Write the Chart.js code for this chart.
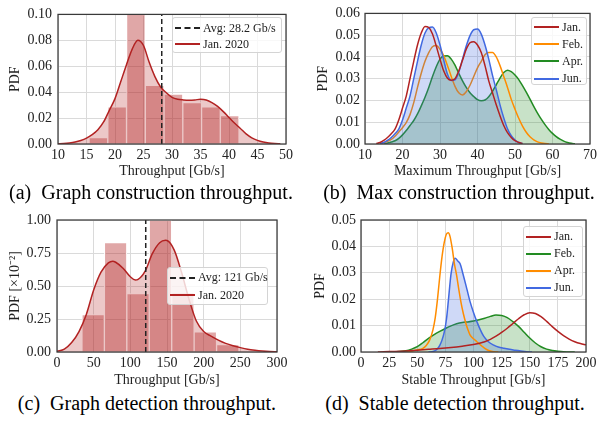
<!DOCTYPE html>
<html>
<head>
<meta charset="utf-8">
<script src="https://cdn.jsdelivr.net/npm/chart.js@4.4.0/dist/chart.umd.min.js"></script>
<style>
  body { margin: 0; background: #fff; }
  #page { position: relative; width: 600px; height: 422px; overflow: hidden;
          font-family: "Liberation Serif", "Times New Roman", serif; }
  #page canvas { position: absolute; }
  .caption { position: absolute; width: 300px; text-align: center; font-size: 20px;
             line-height: 24px; color: #000; white-space: nowrap; }
  .legend { position: absolute; box-sizing: border-box; background: rgba(255,255,255,0.8);
            border: 1px solid #d4d4d4; border-radius: 3px; font-size: 12px; color: #222; }
  .legend .row { position: absolute; left: 2px; height: 16px; display: flex; align-items: center; white-space: nowrap; }
  .legend .swatch { width: 25px; height: 0; margin-right: 3px; }
</style>
</head>
<body>
<div id="page">
  <canvas id="chartA" width="300" height="182" style="left:0;top:0"></canvas>
  <canvas id="chartB" width="300" height="182" style="left:300px;top:0"></canvas>
  <canvas id="chartC" width="300" height="190" style="left:0;top:200px"></canvas>
  <canvas id="chartD" width="300" height="190" style="left:300px;top:200px"></canvas>
  <div class="caption" style="left:1px;top:180px">(a)&nbsp; Graph construction throughput.</div>
  <div class="caption" style="left:309px;top:180px">(b)&nbsp; Max construction throughput.</div>
  <div class="caption" style="left:-3px;top:391px">(c)&nbsp; Graph detection throughput.</div>
  <div class="caption" style="left:305px;top:391px">(d)&nbsp; Stable detection throughput.</div>
</div>
<script>
// ---- (a) graph construction throughput, Jan. 2020 ----
const consXTicks = [10, 15, 20, 25, 30, 35, 40, 45, 50];
const consYTicks = [0, 0.02, 0.04, 0.06, 0.08, 0.10];
const consBinCenters = [17.09, 20.38, 23.67, 26.96, 30.25, 33.54, 36.83, 40.12];
const consBinHeights = [0.005, 0.0287, 0.100, 0.0453, 0.0385, 0.032, 0.0287, 0.0219];
const consKdeX = [10, 11, 12, 13, 14, 15, 16, 17, 18, 19, 20, 21, 22, 23, 24, 25, 26, 27, 28, 29,
                  30, 31, 32, 33, 34, 35, 36, 37, 38, 39, 40, 41, 42, 43, 44, 45, 46, 47, 48, 49];
const consKdeY = [0.0002, 0.0004, 0.0008, 0.0015, 0.0027, 0.0045, 0.0072, 0.011, 0.017, 0.026,
                  0.035, 0.048, 0.061, 0.073, 0.080, 0.076, 0.063, 0.052, 0.044, 0.0395,
                  0.036, 0.0345, 0.034, 0.0338, 0.034, 0.0345, 0.034, 0.032, 0.029, 0.025,
                  0.0205, 0.016, 0.012, 0.0078, 0.0048, 0.0028, 0.0015, 0.0007, 0.0003, 0.0001];
const consAvg = 28.2;

// ---- (b) max construction throughput ----
const maxXTicks = [10, 20, 30, 40, 50, 60, 70];
const maxYTicks = [0, 0.01, 0.02, 0.03, 0.04, 0.05, 0.06];
const maxX = [13, 14, 15, 16, 17, 18, 19, 20, 21, 22, 23, 24, 25, 26, 27, 28, 29, 30, 31, 32,
              33, 34, 35, 36, 37, 38, 39, 40, 41, 42, 43, 44, 45, 46, 47, 48, 49, 50, 51, 52,
              53, 54, 55, 56, 57, 58, 59, 60, 61, 62, 63, 64, 65, 66];
const maxJan = [0.0002, 0.0007, 0.0017, 0.003, 0.0047, 0.0068, 0.011, 0.0165, 0.022, 0.030,
                0.038, 0.0455, 0.051, 0.054, 0.0535, 0.0505, 0.045, 0.039, 0.0335, 0.0302,
                0.0293, 0.030, 0.0335, 0.0385, 0.0435, 0.0465, 0.047, 0.0455, 0.042, 0.036,
                0.029, 0.0235, 0.018, 0.013, 0.0085, 0.0052, 0.003, 0.0015, 0.0007, 0.0002,
                null, null, null, null, null, null, null, null, null, null, null, null, null, null];
const maxFeb = [null, 0.0002, 0.0006, 0.0012, 0.0021, 0.0036, 0.0055, 0.0075, 0.0098, 0.0135,
                0.019, 0.026, 0.0325, 0.038, 0.042, 0.0447, 0.0452, 0.0435, 0.0405, 0.036,
                0.031, 0.0265, 0.0235, 0.0225, 0.024, 0.027, 0.031, 0.035, 0.038, 0.041,
                0.042, 0.042, 0.040, 0.036, 0.031, 0.026, 0.0205, 0.016, 0.0118, 0.0082,
                0.0054, 0.0033, 0.0019, 0.001, 0.0005, 0.0002, 0.0001, null, null, null, null, null, null, null];
const maxApr = [null, null, 0.0002, 0.0005, 0.0009, 0.0015, 0.0026, 0.0042, 0.0062, 0.0085,
                0.0108, 0.0138, 0.0175, 0.0215, 0.026, 0.031, 0.0355, 0.039, 0.0404, 0.0405,
                0.039, 0.0362, 0.0325, 0.029, 0.026, 0.0235, 0.0218, 0.0204, 0.0199, 0.0202,
                0.0217, 0.0242, 0.0272, 0.0303, 0.0328, 0.0339, 0.0332, 0.0317, 0.0296, 0.0268,
                0.0238, 0.0206, 0.0173, 0.0142, 0.0114, 0.0089, 0.0067, 0.0049, 0.0034, 0.0022,
                0.0013, 0.0007, 0.0003, 0.0001];
const maxJun = [null, 0.0002, 0.0007, 0.0017, 0.003, 0.0047, 0.0068, 0.011, 0.0165, 0.022,
                0.030, 0.038, 0.0455, 0.051, 0.0535, 0.0538, 0.051, 0.0455, 0.0385, 0.032,
                0.0292, 0.0295, 0.033, 0.039, 0.045, 0.0498, 0.0525, 0.0528, 0.0505, 0.0455,
                0.039, 0.0315, 0.025, 0.018, 0.012, 0.007, 0.0038, 0.0018, 0.0007, 0.0002,
                null, null, null, null, null, null, null, null, null, null, null, null, null, null];

// ---- (c) graph detection throughput, Jan. 2020 (PDF x 10^-2) ----
const detXTicks = [0, 50, 100, 150, 200, 250, 300];
const detYTicks = [0, 0.25, 0.5, 0.75, 1.0];
const detBinCenters = [49.3, 79.9, 110.5, 141.1, 171.7, 202.3, 232.9];
const detBinHeights = [0.284, 0.828, 0.443, 1.00, 0.45, 0.152, 0.056];
const detKdeX = [0, 10, 20, 30, 40, 50, 60, 70, 76, 80, 90, 100, 107, 110, 120, 130, 140, 148,
                 150, 160, 170, 180, 190, 200, 210, 220, 230, 240, 250, 260, 270, 280, 290, 300];
const detKdeY = [0.005, 0.022, 0.072, 0.155, 0.285, 0.47, 0.605, 0.675, 0.688, 0.68, 0.635,
                 0.57, 0.545, 0.548, 0.61, 0.745, 0.828, 0.846, 0.845, 0.77, 0.60, 0.40, 0.235,
                 0.155, 0.12, 0.09, 0.065, 0.047, 0.033, 0.021, 0.013, 0.007, 0.003, 0.001];
const detAvg = 121;

// ---- (d) stable detection throughput ----
const stbXTicks = [0, 25, 50, 75, 100, 125, 150, 175, 200];
const stbYTicks = [0, 0.01, 0.02, 0.03, 0.04, 0.05];
const stbJanX = [15, 20, 30, 40, 50, 60, 70, 80, 90, 100, 110, 115, 120, 125, 130, 135, 140,
                 145, 150, 155, 160, 165, 170, 175, 180, 185, 190, 195, 200];
const stbJanY = [0, 0.0001, 0.0002, 0.0004, 0.0007, 0.001, 0.0013, 0.0017, 0.0022, 0.0028,
                 0.0039, 0.0048, 0.006, 0.0074, 0.009, 0.0108, 0.0126, 0.0141, 0.0149, 0.0146,
                 0.0134, 0.0116, 0.0096, 0.0078, 0.0062, 0.0049, 0.0039, 0.0032, 0.0027];
const stbFebX = [20, 30, 40, 45, 50, 55, 60, 65, 70, 75, 80, 85, 90, 95, 100, 105, 110, 115,
                 120, 125, 130, 135, 140, 145, 150, 155, 160, 165, 170, 175, 180, 190];
const stbFebY = [0, 0.0001, 0.0005, 0.0011, 0.002, 0.0035, 0.0052, 0.0066, 0.0078, 0.0089,
                 0.0099, 0.0107, 0.0112, 0.0114, 0.0117, 0.0122, 0.0128, 0.0135, 0.014, 0.0138,
                 0.013, 0.0115, 0.0097, 0.0075, 0.0053, 0.0034, 0.002, 0.0011, 0.0006, 0.0003,
                 0.0001, 0];
const stbAprX = [40, 45, 50, 55, 58, 61, 64, 66, 68, 70, 72, 74, 76, 77.6, 79, 81, 83, 85, 87,
                 89, 91, 93, 95, 97, 100, 103, 107, 110, 114, 118, 122];
const stbAprY = [0, 0.0003, 0.0008, 0.0014, 0.0025, 0.0045, 0.0085, 0.013, 0.02, 0.0285, 0.036,
                 0.0415, 0.0447, 0.0452, 0.044, 0.0395, 0.0335, 0.029, 0.0235, 0.0185, 0.0145,
                 0.0112, 0.0085, 0.0064, 0.005, 0.0039, 0.0024, 0.0014, 0.0005, 0.0001, 0];
const stbJunX = [60, 63, 66, 68, 70, 72, 74, 76, 78, 80, 82, 83.7, 86, 88, 91, 94, 97, 100, 103,
                 106, 109, 113, 118, 122, 127, 132, 137, 142, 147, 152];
const stbJunY = [0, 0.0001, 0.0005, 0.0012, 0.0025, 0.0045, 0.0075, 0.0125, 0.021, 0.0295, 0.034,
                 0.0355, 0.0345, 0.0335, 0.029, 0.024, 0.019, 0.015, 0.0115, 0.0085, 0.006,
                 0.004, 0.0026, 0.0019, 0.0014, 0.001, 0.0007, 0.0004, 0.0001, 0];

const RED = '#b22222', ORANGE = '#ff8c00', GREEN = '#228b22', BLUE = '#4169e1';
const SERIF = '"Liberation Serif", "Times New Roman", serif';
Chart.defaults.font.family = SERIF;
Chart.defaults.color = '#222';

const pts = (xs, ys) => xs.map((x, i) => ({ x: x, y: ys[i] }));

// draws the dark frame around the plot area, like matplotlib spines
const framePlugin = {
  id: 'frame',
  afterDatasetsDraw(chart) {
    const { ctx, chartArea: a } = chart;
    ctx.save();
    ctx.strokeStyle = '#3a3a3a';
    ctx.lineWidth = 1.25;
    ctx.strokeRect(a.left, a.top, a.right - a.left, a.bottom - a.top);
    ctx.restore();
  }
};

function makeScale(o) {
  return {
    type: 'linear',
    min: o.min,
    max: o.max,
    offset: false,
    afterBuildTicks: s => { s.ticks = o.ticks.map(v => ({ value: v })); },
    afterFit: s => { if (s.isHorizontal()) s.height = o.size; else s.width = o.size; },
    grid: { color: '#dadada', lineWidth: 1, drawTicks: false, offset: false },
    border: { display: false },
    ticks: {
      padding: o.pad, autoSkip: false, maxRotation: 0, color: '#222',
      font: { size: 14 },
      callback: v => o.digits ? Number(v).toFixed(o.digits) : String(v)
    },
    title: { display: true, text: o.title, color: '#222', font: { size: 14, lineHeight: 1.2 }, padding: o.titlePad }
  };
}

function kdeLine(label, xs, ys, color, fillColor) {
  return {
    type: 'line', label: label, data: pts(xs, ys),
    borderColor: color, borderWidth: 1.5, pointRadius: 0,
    cubicInterpolationMode: 'monotone',
    fill: fillColor ? 'origin' : false,
    backgroundColor: fillColor || 'transparent'
  };
}

function avgLine(label, x, yMax) {
  return {
    type: 'line', label: label, data: [{ x: x, y: 0 }, { x: x, y: yMax }],
    borderColor: '#222', borderWidth: 1.5, borderDash: [5, 3], pointRadius: 0, fill: false
  };
}

function histBars(xs, ys) {
  return {
    type: 'bar', data: pts(xs, ys),
    backgroundColor: 'rgba(178,34,34,0.4)', borderColor: '#ffffff', borderWidth: 1,
    categoryPercentage: 1, barPercentage: 1
  };
}

function baseOptions(padding, xScale, yScale) {
  return {
    responsive: false, animation: false,
    layout: { padding: padding },
    plugins: { legend: { display: false }, tooltip: { enabled: false } },
    scales: { x: xScale, y: yScale }
  };
}

function addLegend(box, items) {
  const el = document.createElement('div');
  el.className = 'legend';
  Object.assign(el.style, { left: box.left + 'px', top: box.top + 'px', width: box.width + 'px', height: box.height + 'px' });
  items.forEach((it, i) => {
    const row = document.createElement('div');
    row.className = 'row';
    row.style.top = (box.first + i * box.step) + 'px';
    const sw = document.createElement('span');
    sw.className = 'swatch';
    sw.style.borderTop = '2px ' + (it.borderDash ? 'dashed ' : 'solid ') + it.borderColor;
    const tx = document.createElement('span');
    tx.textContent = it.label;
    row.appendChild(sw);
    row.appendChild(tx);
    el.appendChild(row);
  });
  document.getElementById('page').appendChild(el);
}

function legendItems(chart, labels) {
  return labels.map(l => chart.data.datasets.find(d => d.label === l));
}

// (a)
const chartA = new Chart(document.getElementById('chartA'), {
  type: 'bar',
  data: {
    datasets: [
      avgLine('Avg: ' + consAvg + ' Gb/s', consAvg, consYTicks[consYTicks.length - 1]),
      kdeLine('Jan. 2020', consKdeX, consKdeY, RED, 'rgba(178,34,34,0.25)'),
      histBars(consBinCenters, consBinHeights)
    ]
  },
  options: baseOptions({ left: 0, top: 12, right: 14, bottom: 0 },
    makeScale({ min: 10, max: 50, ticks: consXTicks, title: 'Throughput [Gb/s]', pad: 3, size: 38, titlePad: { top: 0, bottom: 2 } }),
    makeScale({ min: 0, max: 0.1, ticks: consYTicks, digits: 2, title: 'PDF', pad: 6, size: 58, titlePad: { top: 7, bottom: 0 } })),
  plugins: [framePlugin]
});
addLegend({ left: 172, top: 17, width: 110, height: 36, first: 2, step: 16 },
  legendItems(chartA, ['Avg: ' + consAvg + ' Gb/s', 'Jan. 2020']));

// (b)
const chartB = new Chart(document.getElementById('chartB'), {
  type: 'line',
  data: {
    datasets: [
      kdeLine('Jan.', maxX, maxJan, RED, null),
      kdeLine('Jun.', maxX, maxJun, BLUE, 'rgba(65,105,225,0.25)'),
      kdeLine('Feb.', maxX, maxFeb, ORANGE, null),
      kdeLine('Apr.', maxX, maxApr, GREEN, 'rgba(34,139,34,0.25)')
    ]
  },
  options: baseOptions({ left: 0, top: 12, right: 7, bottom: 0 },
    makeScale({ min: 10, max: 70, ticks: maxXTicks, title: 'Maximum Throughput [Gb/s]', pad: 3, size: 38, titlePad: { top: 0, bottom: 2 } }),
    makeScale({ min: 0, max: 0.06, ticks: maxYTicks, digits: 2, title: 'PDF', pad: 5, size: 65, titlePad: { top: 15, bottom: 0 } })),
  plugins: [framePlugin]
});
addLegend({ left: 531, top: 17, width: 56, height: 68, first: 1, step: 17.2 },
  legendItems(chartB, ['Jan.', 'Feb.', 'Apr.', 'Jun.']));

// (c)
const chartC = new Chart(document.getElementById('chartC'), {
  type: 'bar',
  data: {
    datasets: [
      avgLine('Avg: ' + detAvg + ' Gb/s', detAvg, detYTicks[detYTicks.length - 1]),
      kdeLine('Jan. 2020', detKdeX, detKdeY, RED, 'rgba(178,34,34,0.25)'),
      histBars(detBinCenters, detBinHeights)
    ]
  },
  options: baseOptions({ left: 0, top: 20, right: 23, bottom: 0 },
    makeScale({ min: 0, max: 300, ticks: detXTicks, title: 'Throughput [Gb/s]', pad: 3, size: 38, titlePad: { top: 0, bottom: 1 } }),
    makeScale({ min: 0, max: 1, ticks: detYTicks, digits: 2, title: 'PDF [\u00d710\u207b\u00b2]', pad: 6, size: 57, titlePad: { top: 7, bottom: 0 } })),
  plugins: [framePlugin]
});
addLegend({ left: 167, top: 267, width: 101, height: 38, first: 1.5, step: 17.8 },
  legendItems(chartC, ['Avg: ' + detAvg + ' Gb/s', 'Jan. 2020']));

// (d)
const chartD = new Chart(document.getElementById('chartD'), {
  type: 'line',
  data: {
    datasets: [
      kdeLine('Jan.', stbJanX, stbJanY, RED, null),
      kdeLine('Apr.', stbAprX, stbAprY, ORANGE, null),
      kdeLine('Jun.', stbJunX, stbJunY, BLUE, 'rgba(65,105,225,0.25)'),
      kdeLine('Feb.', stbFebX, stbFebY, GREEN, 'rgba(34,139,34,0.25)')
    ]
  },
  options: baseOptions({ left: 0, top: 20, right: 14, bottom: 0 },
    makeScale({ min: 0, max: 200, ticks: stbXTicks, title: 'Stable Throughput [Gb/s]', pad: 3, size: 38, titlePad: { top: 0, bottom: 1 } }),
    makeScale({ min: 0, max: 0.05, ticks: stbYTicks, digits: 2, title: 'PDF', pad: 5, size: 61, titlePad: { top: 12, bottom: 0 } })),
  plugins: [framePlugin]
});
addLegend({ left: 523, top: 226, width: 60, height: 71, first: 1.5, step: 17 },
  legendItems(chartD, ['Jan.', 'Feb.', 'Apr.', 'Jun.']));
</script>
</body>
</html>
